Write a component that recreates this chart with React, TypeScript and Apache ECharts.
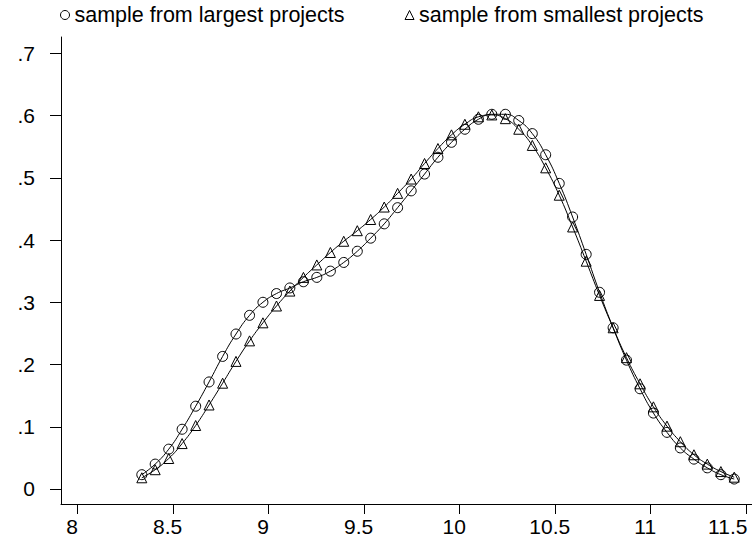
import React, { useEffect, useRef } from "react";
import * as echarts from "echarts";

const xValues = [
  8.336, 8.406, 8.477, 8.547, 8.618, 8.688, 8.759, 8.829, 8.9, 8.97,
  9.041, 9.111, 9.182, 9.252, 9.323, 9.393, 9.464, 9.534, 9.605, 9.675,
  9.746, 9.816, 9.886, 9.957, 10.027, 10.098, 10.168, 10.239, 10.309, 10.38,
  10.45, 10.521, 10.591, 10.662, 10.732, 10.803, 10.873, 10.944, 11.014, 11.085,
  11.155, 11.226, 11.296, 11.367, 11.437,
];

const largest = [
  0.023, 0.04, 0.064, 0.096, 0.133, 0.172, 0.213, 0.249, 0.279, 0.3,
  0.314, 0.323, 0.333, 0.34, 0.35, 0.364, 0.382, 0.403, 0.426, 0.452,
  0.479, 0.506, 0.533, 0.557, 0.578, 0.594, 0.602, 0.602, 0.592, 0.571,
  0.537, 0.491, 0.437, 0.377, 0.316, 0.259, 0.207, 0.161, 0.122, 0.091,
  0.066, 0.048, 0.034, 0.023, 0.016,
];

const smallest = [
  0.018, 0.031, 0.049, 0.073, 0.102, 0.135, 0.17, 0.205, 0.238, 0.267,
  0.294, 0.318, 0.34, 0.36, 0.38, 0.398, 0.415, 0.433, 0.453, 0.475,
  0.498, 0.523, 0.547, 0.569, 0.586, 0.598, 0.601, 0.595, 0.578, 0.552,
  0.516, 0.472, 0.421, 0.366, 0.311, 0.259, 0.211, 0.169, 0.132, 0.101,
  0.076, 0.055, 0.04, 0.028, 0.019,
];

const xTicks = [8, 8.5, 9, 9.5, 10, 10.5, 11, 11.5];
const yTicks = [0, 0.1, 0.2, 0.3, 0.4, 0.5, 0.6, 0.7];

const seriesNames = ["sample from largest projects", "sample from smallest projects"];

const FONT = "Liberation Sans, Arial, Helvetica, sans-serif";

export default function App() {
  const ref = useRef<HTMLDivElement>(null);

  useEffect(() => {
    if (!ref.current) return;
    const chart = echarts.init(ref.current, undefined, { renderer: "svg" });
    const pair = (ys: number[]) => xValues.map((x, i) => [x, ys[i]]);
    const markerStyle = { color: "rgba(0,0,0,0)", borderColor: "#000", borderWidth: 1 };
    const labelText = { fontFamily: FONT, fontSize: 21, color: "#000" };
    chart.setOption({
      animation: false,
      backgroundColor: "#fff",
      grid: { left: 61, right: 0, top: 37, bottom: 36, containLabel: false },
      legend: {
        left: 60,
        top: 4,
        padding: 0,
        itemGap: 60,
        itemWidth: 9,
        itemHeight: 9,
        textStyle: { fontFamily: FONT, fontSize: 21.5, color: "#000" },
        data: [
          { name: seriesNames[0], icon: "circle", itemStyle: markerStyle },
          { name: seriesNames[1], icon: "triangle", itemStyle: markerStyle },
        ],
      },
      xAxis: {
        type: "value",
        min: 7.913,
        max: 11.53,
        axisLine: { show: true, onZero: false, lineStyle: { color: "#000", width: 1 } },
        axisTick: { show: true, length: 10, customValues: xTicks, lineStyle: { color: "#000" } },
        axisLabel: {
          customValues: xTicks,
          margin: 12,
          ...labelText,
          formatter: (v: number) => (v === 11.5 ? `{e|${v}}` : `{n|${v}}`),
          rich: {
            n: { ...labelText, padding: [0, 11, 0, 0] },
            e: { ...labelText, padding: [0, 37, 0, 0] },
          },
        },
        splitLine: { show: false },
      },
      yAxis: {
        type: "value",
        min: -0.0241,
        max: 0.7262,
        axisLine: { show: true, onZero: false, lineStyle: { color: "#000", width: 1 } },
        axisTick: { show: true, length: 11, customValues: yTicks, lineStyle: { color: "#000" } },
        axisLabel: {
          customValues: yTicks,
          margin: 26,
          ...labelText,
          formatter: (v: number) => (v === 0 ? "0" : String(Math.round(v * 10) / 10).replace(/^0/, "")),
        },
        splitLine: { show: false },
      },
      series: [
        {
          name: seriesNames[0],
          type: "line",
          data: pair(largest),
          smooth: true,
          symbol: "circle",
          symbolSize: 10,
          showAllSymbol: true,
          lineStyle: { color: "#000", width: 1 },
          itemStyle: markerStyle,
        },
        {
          name: seriesNames[1],
          type: "line",
          data: pair(smallest),
          smooth: true,
          symbol: "triangle",
          symbolSize: 10,
          showAllSymbol: true,
          lineStyle: { color: "#000", width: 1 },
          itemStyle: markerStyle,
        },
      ],
    });
    return () => chart.dispose();
  }, []);

  return <div ref={ref} style={{ width: 752, height: 540, position: "absolute", left: 0, top: 0 }} />;
}
